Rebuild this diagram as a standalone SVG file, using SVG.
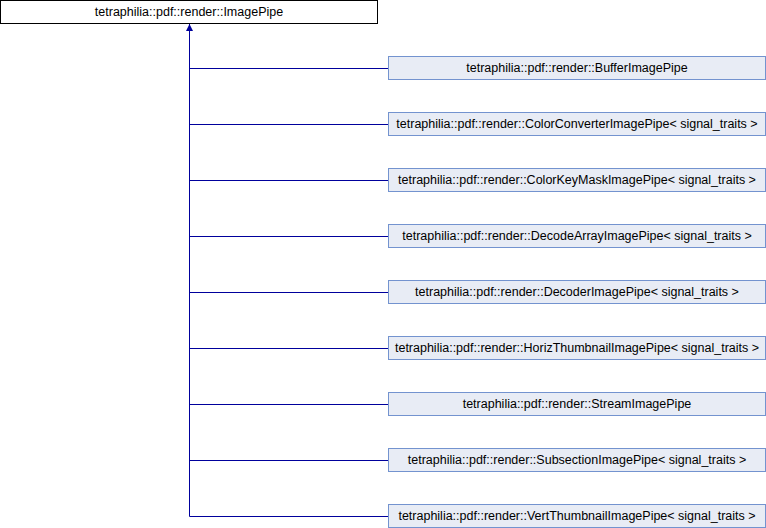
<svg xmlns="http://www.w3.org/2000/svg" width="766" height="528" viewBox="0 0 766 528">
  <style>
    .base rect { fill: #ffffff; stroke: #000000; stroke-width: 1; }
    .cls rect { fill: #e8ecf5; stroke: #7393cf; stroke-width: 1; }
    text { font-family: "Liberation Sans", Arial, sans-serif; font-size: 12.5px; fill: #000000; text-anchor: middle; }
    .edges path { fill: none; stroke: #00009c; stroke-width: 1; }
  </style>
  <defs>
    <!-- filled triangle marking the base class side -->
    <marker id="inherit" viewBox="0 0 7 7" refX="7" refY="3.5" markerWidth="7" markerHeight="7" markerUnits="userSpaceOnUse" orient="auto">
      <path d="M0,0 L7,3.5 L0,7 Z" fill="#00009c"/>
    </marker>
  </defs>

  <!-- base class -->
  <g id="ImagePipe" class="base">
    <rect x="0.5" y="0.5" width="377" height="23"/>
    <text x="189" y="16">tetraphilia::pdf::render::ImagePipe</text>
  </g>

  <!-- inheritance connectors -->
  <g class="edges">
    <path d="M189.5,516.5 V24" marker-end="url(#inherit)"/>
    <path d="M189.5,68.5 H388.5"/>
    <path d="M189.5,124.5 H388.5"/>
    <path d="M189.5,180.5 H388.5"/>
    <path d="M189.5,236.5 H388.5"/>
    <path d="M189.5,292.5 H388.5"/>
    <path d="M189.5,348.5 H388.5"/>
    <path d="M189.5,404.5 H388.5"/>
    <path d="M189.5,460.5 H388.5"/>
    <path d="M189.5,516.5 H388.5"/>
  </g>

  <!-- derived classes -->
  <g id="BufferImagePipe" class="cls">
    <rect x="388.5" y="56.5" width="377" height="23"/>
    <text x="577" y="72">tetraphilia::pdf::render::BufferImagePipe</text>
  </g>
  <g id="ColorConverterImagePipe" class="cls">
    <rect x="388.5" y="112.5" width="377" height="23"/>
    <text x="577" y="128">tetraphilia::pdf::render::ColorConverterImagePipe&lt; signal_traits &gt;</text>
  </g>
  <g id="ColorKeyMaskImagePipe" class="cls">
    <rect x="388.5" y="168.5" width="377" height="23"/>
    <text x="577" y="184">tetraphilia::pdf::render::ColorKeyMaskImagePipe&lt; signal_traits &gt;</text>
  </g>
  <g id="DecodeArrayImagePipe" class="cls">
    <rect x="388.5" y="224.5" width="377" height="23"/>
    <text x="577" y="240">tetraphilia::pdf::render::DecodeArrayImagePipe&lt; signal_traits &gt;</text>
  </g>
  <g id="DecoderImagePipe" class="cls">
    <rect x="388.5" y="280.5" width="377" height="23"/>
    <text x="577" y="296">tetraphilia::pdf::render::DecoderImagePipe&lt; signal_traits &gt;</text>
  </g>
  <g id="HorizThumbnailImagePipe" class="cls">
    <rect x="388.5" y="336.5" width="377" height="23"/>
    <text x="577" y="352">tetraphilia::pdf::render::HorizThumbnailImagePipe&lt; signal_traits &gt;</text>
  </g>
  <g id="StreamImagePipe" class="cls">
    <rect x="388.5" y="392.5" width="377" height="23"/>
    <text x="577" y="408">tetraphilia::pdf::render::StreamImagePipe</text>
  </g>
  <g id="SubsectionImagePipe" class="cls">
    <rect x="388.5" y="448.5" width="377" height="23"/>
    <text x="577" y="464">tetraphilia::pdf::render::SubsectionImagePipe&lt; signal_traits &gt;</text>
  </g>
  <g id="VertThumbnailImagePipe" class="cls">
    <rect x="388.5" y="504.5" width="377" height="23"/>
    <text x="577" y="520">tetraphilia::pdf::render::VertThumbnailImagePipe&lt; signal_traits &gt;</text>
  </g>
</svg>
